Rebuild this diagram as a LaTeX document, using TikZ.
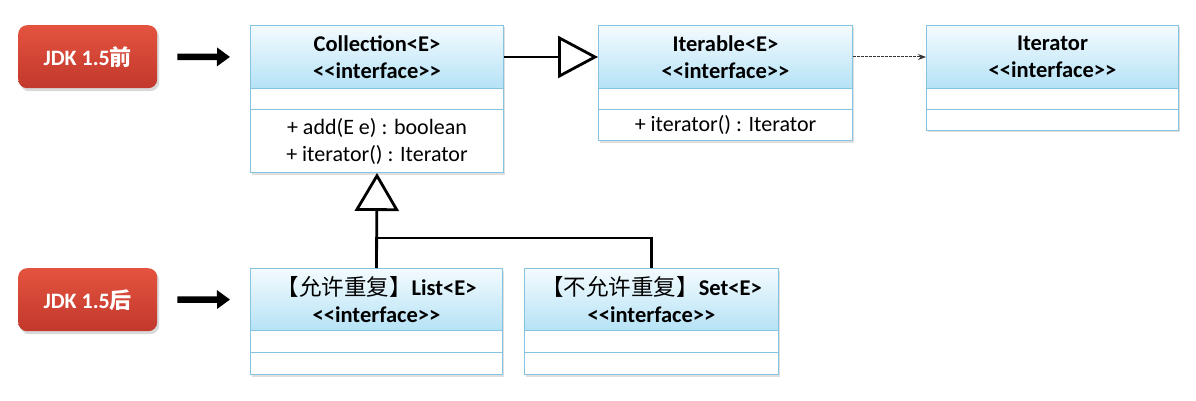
\documentclass[tikz,border=0pt]{standalone}
\usepackage{fontspec}
\setmainfont{Carlito}
\newfontfamily\cjk{Noto Sans CJK SC}
\usetikzlibrary{shadows,arrows.meta}
\definecolor{hdtop}{HTML}{F4FBFE}
\definecolor{hdbot}{HTML}{B5E2F6}
\definecolor{bord}{HTML}{86C3E0}
\definecolor{redtop}{HTML}{E4533F}
\definecolor{redbot}{HTML}{C2382C}
\newcommand{\ifc}{<{}<interface>{}>}
\begin{document}
\begin{tikzpicture}[x=1pt,y=-1pt,
  outline/.style={draw=bord, line width=1pt, fill=white, anchor=north west, inner sep=0,
    drop shadow={opacity=0.25, shadow xshift=1.5pt, shadow yshift=-2pt}},
  hdr/.style={draw=bord, line width=1pt, top color=hdtop, bottom color=hdbot, anchor=north west,
    align=center, inner sep=0, font=\fontsize{22.5}{27}\selectfont\bfseries},
  sec/.style={draw=bord, line width=1pt, fill=white, anchor=north west, align=center, inner sep=0,
    font=\fontsize{22}{27}\selectfont},
  jdk/.style={rounded corners=9pt, top color=redtop, bottom color=redbot, draw=none,
    minimum width=139, minimum height=63, anchor=north west, text=white,
    font=\fontsize{22}{26}\selectfont\bfseries,
    drop shadow={opacity=0.3, shadow xshift=2pt, shadow yshift=-3pt}},
  bigarrow/.style={line width=6.5pt, -{Triangle[length=13pt,width=18pt]}, shorten <=20pt, shorten >=20pt},
  gen/.style={line width=2.8pt, -{Triangle[open, length=40pt, width=42pt]}},
  link/.style={line width=2.8pt}
]
\useasboundingbox (0,0) rectangle (1196,401);

% JDK labels
\node[jdk] (jdk1) at (18,25) {JDK 1.5{\cjk 前}};
\node[jdk] (jdk2) at (18,268) {JDK 1.5{\cjk 后}};

% Collection
\node[outline, minimum width=253, minimum height=147] (collbox) at (250,25) {};
\node[hdr, minimum width=253, minimum height=63] (collhd) at (250,25) {Collection<E>\\\ifc};
\node[sec, minimum width=253, minimum height=21] (collat) at (250,88) {};
\node[sec, minimum width=253, minimum height=63] (collop) at (250,109) {+ add(E e) : boolean\\+ iterator() : Iterator};

% Iterable
\node[outline, minimum width=254, minimum height=115] (itbox) at (598,25) {};
\node[hdr, minimum width=254, minimum height=63] (ithd) at (598,25) {Iterable<E>\\\ifc};
\node[sec, minimum width=254, minimum height=21] (itat) at (598,88) {};
\node[sec, minimum width=254, minimum height=31] (itop) at (598,109) {+ iterator() : Iterator};

% Iterator
\node[outline, minimum width=252, minimum height=105] (irbox) at (926,25) {};
\node[hdr, minimum width=252, minimum height=63] (irhd) at (926,25) {Iterator\\\ifc};
\node[sec, minimum width=252, minimum height=21] (irat) at (926,88) {};
\node[sec, minimum width=252, minimum height=21] (irop) at (926,109) {};

% List
\node[outline, minimum width=252, minimum height=106] (listbox) at (250,268) {};
\node[hdr, minimum width=252, minimum height=62] (listhd) at (250,268) {{\cjk\mdseries 【允许重复】}List<E>\\\ifc};
\node[sec, minimum width=252, minimum height=22] (listat) at (250,330) {};
\node[sec, minimum width=252, minimum height=22] (listop) at (250,352) {};

% Set
\node[outline, minimum width=254, minimum height=106] (setbox) at (524,268) {};
\node[hdr, minimum width=254, minimum height=62] (sethd) at (524,268) {{\cjk\mdseries 【不允许重复】}Set<E>\\\ifc};
\node[sec, minimum width=254, minimum height=22] (setat) at (524,330) {};
\node[sec, minimum width=254, minimum height=22] (setop) at (524,352) {};

% connectors
\draw[bigarrow] (jdk1.east) -- (collhd.west);
\draw[bigarrow] (jdk2.east) -- (listhd.west);
\draw[gen] (collhd.east) -- (ithd.west);
\draw[gen, -{Triangle[open, length=38pt, width=44pt]}] (listbox.north) -- (collbox.south);
\draw[link] (setbox.north) -- ++(0,-30) -| (listbox.north);
\draw[line width=1pt, black!80, dash pattern=on 2.5pt off 1.5pt, -{Stealth[length=8pt,width=6pt]}] (ithd.east) -- (irhd.west);
\end{tikzpicture}
\end{document}
